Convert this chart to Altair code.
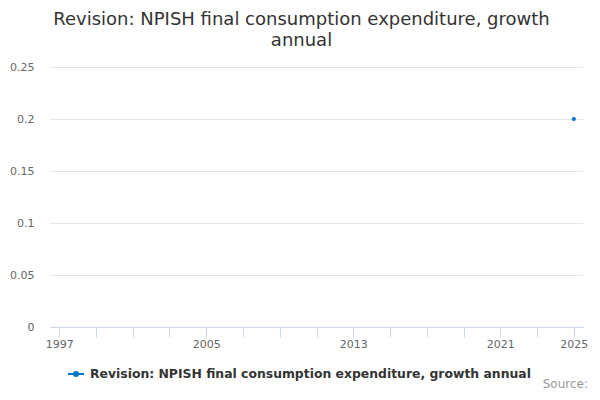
import altair as alt
import pandas as pd

years = list(range(1997, 2026))
values = [None] * 28 + [0.2]
series_name = "Revision: NPISH final consumption expenditure, growth annual"
x_tick_years = list(range(1997, 2026, 2))
x_label_years = [1997, 2005, 2013, 2021, 2025]
y_ticks = [0, 0.05, 0.1, 0.15, 0.2, 0.25]

df = pd.DataFrame({"year": years, "value": values, "series": series_name})

FONT = "DejaVu Sans"
BLUE = "#0076c6"

label_list = ",".join(str(v) for v in x_label_years)

line = alt.Chart(df).mark_line(
    strokeWidth=2,
    point=alt.OverlayMarkDef(filled=True, size=18, opacity=1),
).encode(
    x=alt.X(
        "year:Q",
        scale=alt.Scale(domain=[1996.5, 2025.5], nice=False, zero=False),
        axis=alt.Axis(
            title=None,
            values=x_tick_years,
            format="d",
            labelExpr=f"indexof([{label_list}], datum.value) >= 0 ? datum.label : ''",
            grid=False,
            domainColor="#ccd6eb",
            tickColor="#ccd6eb",
            tickSize=10,
            labelPadding=1,
            labelFlush=False,
            labelOverlap=False,
            labelFont=FONT,
            labelFontSize=11,
            labelColor="#666666",
        ),
    ),
    y=alt.Y(
        "value:Q",
        scale=alt.Scale(domain=[0, 0.25], nice=False),
        axis=alt.Axis(
            title=None,
            values=y_ticks,
            format="~g",
            grid=True,
            gridColor="#e6e6e6",
            domain=False,
            ticks=False,
            labelPadding=16,
            labelFont=FONT,
            labelFontSize=11,
            labelColor="#666666",
        ),
    ),
    color=alt.Color(
        "series:N",
        scale=alt.Scale(range=[BLUE]),
        legend=alt.Legend(
            title=None,
            orient="none",
            legendX=17,
            legendY=298,
            symbolType="M-1,0L1,0M-0.25,0A0.25,0.25,0,1,0,0.25,0A0.25,0.25,0,1,0,-0.25,0",
            symbolSize=256,
            symbolStrokeWidth=2,
            symbolStrokeColor=BLUE,
            symbolFillColor=BLUE,
            labelFont=FONT,
            labelFontSize=12.4,
            labelFontWeight="bold",
            labelColor="#333333",
            labelLimit=600,
            labelOffset=5,
            padding=0,
        ),
    ),
)

source = alt.Chart(pd.DataFrame({"t": ["Source:"]})).mark_text(
    align="right", baseline="alphabetic", font=FONT, fontSize=12, color="#999999"
).encode(
    text="t:N",
    x=alt.value(538),
    y=alt.value(321),
)

chart = alt.layer(line, source).properties(
    width=533,
    height=260,
    padding={"left": 42, "top": 59, "right": 9, "bottom": 65},
    autosize=alt.AutoSizeParams(type="none"),
    title=alt.TitleParams(
        text=["Revision: NPISH final consumption expenditure, growth", "annual"],
        anchor="middle",
        frame="group",
        dx=-15,
        offset=11,
        font=FONT,
        fontSize=18,
        fontWeight="normal",
        color="#333333",
        lineHeight=21,
    ),
).configure_view(stroke=None)

chart.save("out.html", embed_options={"renderer": "svg", "actions": False})
